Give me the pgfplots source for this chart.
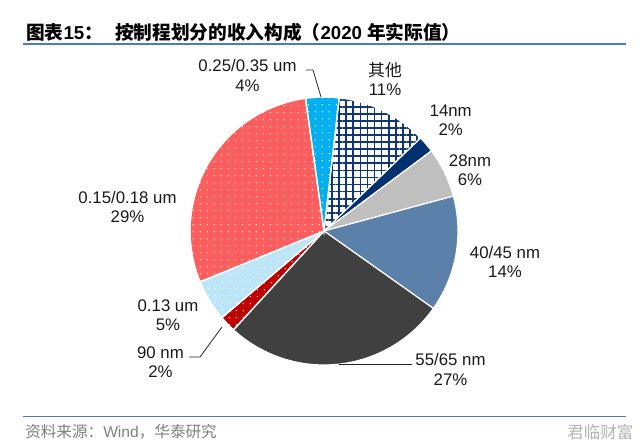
\documentclass[border=0pt]{standalone}
\usepackage{fontspec}
\setmainfont{Liberation Sans}
\newfontfamily\cjk{Noto Sans CJK SC}
\usepackage{pgfplots}
\pgfplotsset{compat=1.18}
\usetikzlibrary{patterns.meta}

\definecolor{cOther}{HTML}{103674}
\definecolor{cFourteen}{HTML}{003070}
\definecolor{cTwentyEight}{HTML}{BFBFBF}
\definecolor{cForty}{HTML}{5B80AA}
\definecolor{cFiftyFive}{HTML}{404040}
\definecolor{cNinety}{HTML}{C00000}
\definecolor{cThirteen}{HTML}{BDE5F8}
\definecolor{cFifteen}{HTML}{FF5E5E}
\definecolor{cTwentyFive}{HTML}{00B0F0}
\definecolor{lineblue}{HTML}{4A7DBA}
\definecolor{srcgray}{HTML}{7F7F7F}

\tikzset{
  dotted slice/.style={preaction={fill=#1}, pattern={Dots[distance=5.4pt,radius=0.6pt]}, pattern color=white},
  sOther/.style={preaction={fill=white}, pattern={Hatch[distance=5.3pt,angle=0,line width=1.3pt]}, pattern color=cOther},
  sFourteen/.style={fill=cFourteen},
  sTwentyEight/.style={fill=cTwentyEight},
  sForty/.style={fill=cForty},
  sFiftyFive/.style={fill=cFiftyFive},
  sNinety/.style={dotted slice=cNinety},
  sThirteen/.style={dotted slice=cThirteen},
  sFifteen/.style={dotted slice=cFifteen},
  sTwentyFive/.style={dotted slice=cTwentyFive},
  lbl/.style={align=center, inner sep=0pt, font=\fontsize{12.6}{14.6}\selectfont, text=black!90},
}

% pie slice: #1 = share in percent, #2 = style
\newcommand\cum{0}
\newcommand\slice[2]{%
  \pgfmathsetmacro\sa{6.5+3.6*\cum}%
  \pgfmathsetmacro\sb{6.5+3.6*(\cum+#1)}%
  \pgfmathsetmacro\tmpc{\cum+#1}\xdef\cum{\tmpc}%
  \edef\doslice{\noexpand\addplot[#2, draw=white, line width=0.9pt, domain=\sa:\sb, samples=60]
     ({324+134*sin(x)},{231-134*cos(x)}) -- (axis cs:324,231) -- cycle;}%
  \doslice}

\begin{document}
\begin{tikzpicture}
\begin{axis}[scale only axis, width=480pt, height=334.5pt,
  xmin=0, xmax=640, ymin=0, ymax=446, y dir=reverse,
  hide axis, clip=false]

% shares in percent, clockwise
\slice{11}{sOther}
\slice{2}{sFourteen}
\slice{6}{sTwentyEight}
\slice{14}{sForty}
\slice{27}{sFiftyFive}
\slice{2}{sNinety}
\slice{5}{sThirteen}
\slice{29}{sFifteen}
\slice{4}{sTwentyFive}

% leader lines
\draw[black!85, line width=0.6pt] (axis cs:306,70) -- (axis cs:313,70) -- (axis cs:321,97);
\draw[black!85, line width=0.6pt] (axis cs:189,357) -- (axis cs:200,357) -- (axis cs:222,327);
\draw[black!85, line width=0.6pt] (axis cs:339,364.5) -- (axis cs:412,364.5);

% labels
\node[lbl] at (axis cs:247.5,75.5) {0.25/0.35 um\\4\%};
\node[lbl] at (axis cs:385,79) {{\cjk 其他}\\11\%};
\node[lbl] at (axis cs:450.7,120.3) {14nm\\2\%};
\node[lbl] at (axis cs:470,170) {28nm\\6\%};
\node[lbl] at (axis cs:505,262.2) {40/45 nm\\14\%};
\node[lbl] at (axis cs:450.5,369.3) {55/65 nm\\27\%};
\node[lbl] at (axis cs:160.5,362.2) {90 nm\\2\%};
\node[lbl] at (axis cs:168,315) {0.13 um\\5\%};
\node[lbl] at (axis cs:127.5,207) {0.15/0.18 um\\29\%};

% title and rules
\node[anchor=west, inner sep=0pt, font=\fontsize{14}{16}\selectfont\bfseries] at (axis cs:26,32.5) {{\cjk 图表}15{\cjk ：}};
\node[anchor=west, inner sep=0pt, font=\fontsize{14}{16}\selectfont\bfseries] at (axis cs:115,32.5) {{\cjk 按制程划分的收入构成（}2020 {\cjk 年实际值）}};
\draw[lineblue, line width=1.1pt] (axis cs:22.5,44) -- (axis cs:626,44);
\draw[lineblue, line width=1.1pt] (axis cs:22.5,416.7) -- (axis cs:626,416.7);

% source
\node[anchor=west, inner sep=0pt, text=srcgray, font=\fontsize{11.7}{14}\selectfont] at (axis cs:25,432) {{\cjk 资料来源：}Wind{\cjk ，华泰研究}};
\node[anchor=west, inner sep=0pt, text=black!30, font=\fontsize{12.4}{14}\selectfont] at (axis cs:567,432) {\cjk 君临财富};
\end{axis}
\pgfresetboundingbox
\path (current axis.south west) rectangle (current axis.north east);
\end{tikzpicture}
\end{document}
